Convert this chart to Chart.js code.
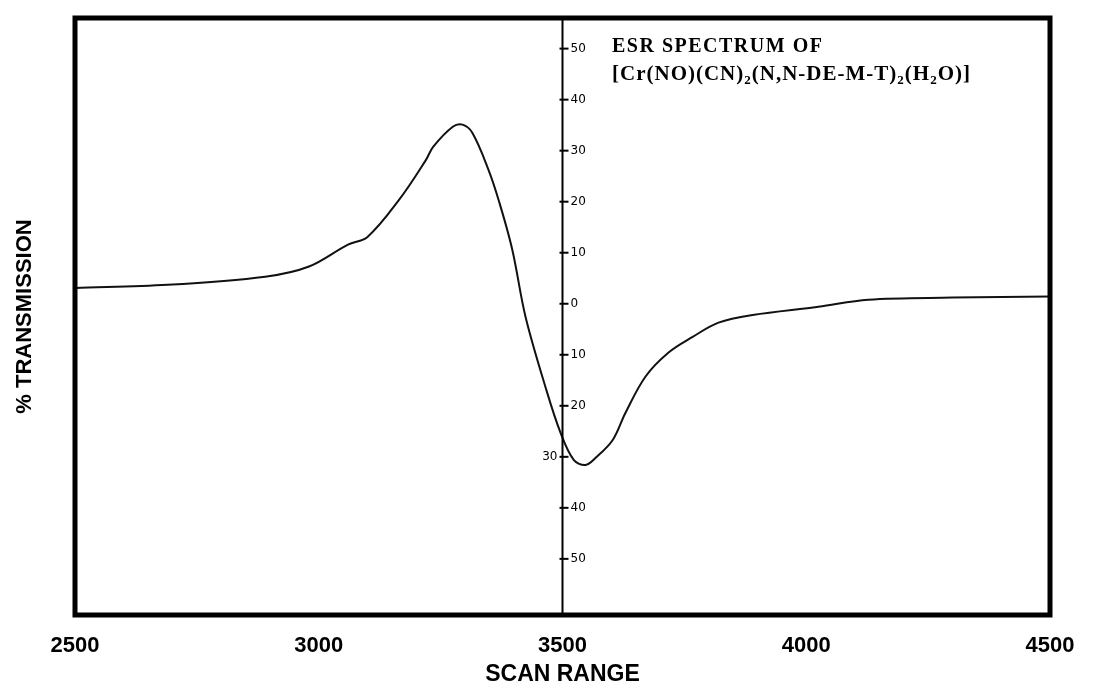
<!DOCTYPE html>
<html>
<head>
<meta charset="utf-8">
<script src="https://cdn.jsdelivr.net/npm/chart.js@4"></script>
<style>
  body { margin: 0; background: #fff; }
  #wrap { width: 1104px; height: 690px; }
</style>
</head>
<body>
<div id="wrap"><canvas id="myChart" width="1104" height="690"></canvas></div>
<script>
// scan range (x) and % transmission (y)
var scanX = [2500, 2690, 2890, 2980, 3060, 3100, 3165, 3220, 3235, 3275, 3295, 3315, 3348, 3370, 3397,
             3424, 3465, 3496, 3523, 3547, 3568, 3603, 3629, 3670, 3717, 3767, 3820, 3890, 4025, 4127, 4300, 4500];
var transmission = [3.1, 3.7, 5.3, 7.3, 11.6, 13.1, 20.4, 28.2, 30.8, 34.7, 35.1, 33.5, 26.3, 20, 10.6,
                    -2.5, -16.3, -25.3, -30.6, -31.6, -30.2, -26.7, -21.4, -14.3, -9.6, -6.5, -3.7, -2.2, -0.6, 0.8, 1.2, 1.4];

var xTicks = [2500, 3000, 3500, 4000, 4500];
var yTicks = [50, 40, 30, 20, 10, 0, -10, -20, -30, -40, -50];
var yTickLabels = ["50", "40", "30", "20", "10", "0", "10", "20", "30", "40", "50"];

var frameAndAxis = {
    id: 'frameAndAxis',
    afterDraw: function(chart) {
        var c = chart.ctx, a = chart.chartArea;
        var xs = chart.scales.x, ys = chart.scales.y;
        c.save();
        // outer frame
        c.strokeStyle = '#000';
        c.lineWidth = 5;
        c.strokeRect(a.left, a.top, a.right - a.left, a.bottom - a.top);
        // centre axis at 3500
        var ax = xs.getPixelForValue(3500);
        c.lineWidth = 2;
        c.beginPath();
        c.moveTo(ax, a.top);
        c.lineTo(ax, a.bottom);
        c.stroke();
        c.font = '12px "DejaVu Sans"';
        c.fillStyle = '#000';
        c.textBaseline = 'middle';
        for (var i = 0; i < yTicks.length; i++) {
            var py = ys.getPixelForValue(yTicks[i]);
            c.lineWidth = 2;
            c.beginPath();
            c.moveTo(ax - 3, py);
            c.lineTo(ax + 6, py);
            c.stroke();
            if (yTicks[i] === -30) {
                c.textAlign = 'right';
                c.fillText(yTickLabels[i], ax - 5, py);
            } else {
                c.textAlign = 'left';
                c.fillText(yTickLabels[i], ax + 8, py);
            }
        }
        // caption inside the plot
        var x0 = 612;
        c.textAlign = 'left';
        c.textBaseline = 'alphabetic';
        c.letterSpacing = '1.5px';
        c.font = 'bold 20px "Liberation Serif"';
        c.fillText('ESR SPECTRUM OF', x0, 52);
        c.letterSpacing = '1px';
        var parts = [['[Cr(NO)(CN)', 0], ['2', 1], ['(N,N-DE-M-T)', 0], ['2', 1], ['(H', 0], ['2', 1], ['O)]', 0]];
        var px = x0;
        for (var j = 0; j < parts.length; j++) {
            if (parts[j][1]) {
                c.font = 'bold 13px "Liberation Serif"';
                c.fillText(parts[j][0], px, 84);
            } else {
                c.font = 'bold 21px "Liberation Serif"';
                c.fillText(parts[j][0], px, 80);
            }
            px += c.measureText(parts[j][0]).width;
        }
        c.restore();
    }
};

var ctx = document.getElementById('myChart').getContext('2d');
var chart = new Chart(ctx, {
    type: 'line',
    data: {
        datasets: [{
            label: '% Transmission',
            data: scanX.map(function(x, i) { return { x: x, y: transmission[i] }; }),
            borderColor: '#111',
            borderWidth: 2,
            pointRadius: 0,
            tension: 0.35,
            fill: false
        }]
    },
    plugins: [frameAndAxis],
    options: {
        responsive: false,
        animation: false,
        layout: { padding: { top: 18, right: 54, left: 0, bottom: 0 } },
        plugins: { legend: { display: false }, tooltip: { enabled: false } },
        scales: {
            x: {
                type: 'linear',
                min: 2500, max: 4500,
                afterBuildTicks: function(s) { s.ticks = xTicks.map(function(v) { return { value: v }; }); },
                afterFit: function(s) { s.height = 75; },
                grid: { display: false, drawTicks: false },
                border: { display: false },
                ticks: { color: '#000', padding: 18, callback: function(v) { return String(v); },
                         font: { family: 'Liberation Sans', size: 22, weight: 'bold' } },
                title: { display: true, text: 'SCAN RANGE', color: '#000', padding: { top: 2, bottom: 2 },
                         font: { family: 'Liberation Sans', size: 23, weight: 'bold' } }
            },
            y: {
                min: -61, max: 56,
                display: false
            },
            yt: {
                position: 'left',
                min: -61, max: 56,
                afterFit: function(s) { s.width = 75; },
                grid: { display: false, drawTicks: false },
                border: { display: false },
                ticks: { display: false },
                title: { display: true, text: '% TRANSMISSION', color: '#000', padding: { top: 12, bottom: 0 },
                         font: { family: 'Liberation Sans', size: 22, weight: 'bold' } }
            }
        }
    }
});
</script>
</body>
</html>
